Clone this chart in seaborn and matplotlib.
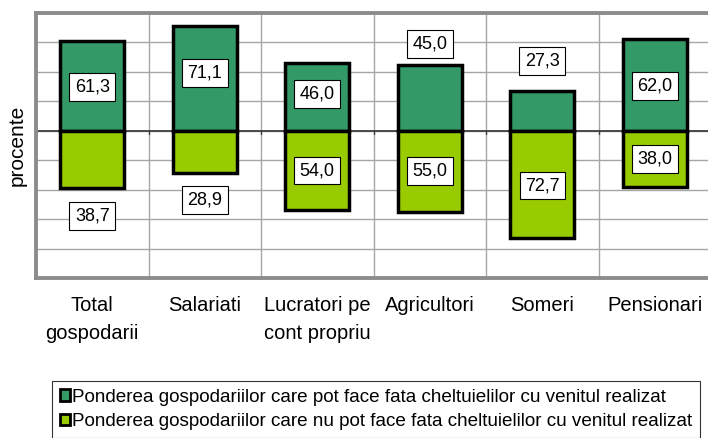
import matplotlib
matplotlib.use("Agg")
import matplotlib.pyplot as plt
import seaborn as sns
import pandas as pd
from matplotlib.patches import Patch

categories = ["Total\ngospodarii", "Salariati", "Lucratori pe\ncont propriu",
              "Agricultori", "Someri", "Pensionari"]
pot = [61.3, 71.1, 46.0, 45.0, 27.3, 62.0]
nu_pot = [38.7, 28.9, 54.0, 55.0, 72.7, 38.0]
series_names = ["Ponderea gospodariilor care pot face fata cheltuielilor cu venitul realizat",
                "Ponderea gospodariilor care nu pot face fata cheltuielilor cu venitul realizat"]

# label placement (layout only, in axis units)
pot_label_y = [29.7, 39.2, 24.7, 58.8, 47.3, 30.4]
nu_label_y = [-58.1, -47.3, -27.0, -27.4, -37.2, -19.0]

colors = ["#339966", "#99CC00"]

sns.set_theme(style="white")
plt.rcParams['font.family'] = ['Liberation Sans', 'DejaVu Sans']
plt.rcParams['text.color'] = 'black'
plt.rcParams['axes.labelcolor'] = 'black'
plt.rcParams['xtick.color'] = 'black'

df = pd.DataFrame({
    "cat": categories * 2,
    "series": [series_names[0]] * 6 + [series_names[1]] * 6,
    "val": pot + [-v for v in nu_pot],
})

fig = plt.figure(figsize=(7.08, 4.38), dpi=100)
W, H = 708, 438
ax = fig.add_axes([36 / W, (H - 278) / H, 675 / W, 265 / H])

sns.barplot(data=df, x="cat", y="val", hue="series", dodge=False, palette=colors,
            width=0.57, edgecolor="black", linewidth=2.5, ax=ax, legend=False,
            saturation=1, zorder=3)

ax.set_xlim(-0.5, 5.5)
ax.set_ylim(-100, 80)
ax.set_yticks(range(-100, 81, 20))
ax.set_yticklabels([])
ax.tick_params(axis="y", length=0)
ax.set_xticks([i + 0.5 for i in range(-1, 6)], minor=True)
ax.grid(True, axis="y", color="#a6a6a6", linewidth=1, zorder=0)
ax.grid(True, axis="x", which="minor", color="#a6a6a6", linewidth=1, zorder=0)
ax.set_axisbelow(True)
ax.axhline(0, color="#404040", linewidth=1.3, zorder=2)
for i in range(0, 6):
    ax.plot([i - 0.5, i - 0.5], [0, -2.5], color="#404040", linewidth=1, zorder=2)

ax.set_xlabel("")
ax.set_ylabel("procente", fontsize=15, labelpad=3)
ax.tick_params(axis="x", which="major", length=0, labelsize=14.5, pad=13, labelcolor="black")
for lab in ax.get_xticklabels():
    lab.set_linespacing(1.6)
    lab.set_verticalalignment("top")
for s in ax.spines.values():
    s.set_color("#8c8c8c")
    s.set_linewidth(2.8)

bbox = dict(boxstyle="square,pad=0.3", facecolor="white", edgecolor="black", linewidth=0.8)
for i in range(6):
    ax.text(i, pot_label_y[i], f"{pot[i]:.1f}".replace(".", ","), ha="center", va="center",
            fontsize=13, bbox=bbox, zorder=5)
    ax.text(i, nu_label_y[i], f"{nu_pot[i]:.1f}".replace(".", ","), ha="center", va="center",
            fontsize=13, bbox=bbox, zorder=5)

handles = [Patch(facecolor=c, edgecolor="black", linewidth=2) for c in colors]
leg = fig.legend(handles, series_names, loc="upper left",
                 bbox_to_anchor=(52 / W, 1 - 381 / H), fontsize=13.6,
                 frameon=True, fancybox=False, handlelength=0.55, handleheight=0.55,
                 handletextpad=0.1, borderpad=0.4, labelspacing=0.42, borderaxespad=0)
leg.get_frame().set_edgecolor("black")
leg.get_frame().set_linewidth(0.8)

fig.savefig("out.png", dpi=100)
